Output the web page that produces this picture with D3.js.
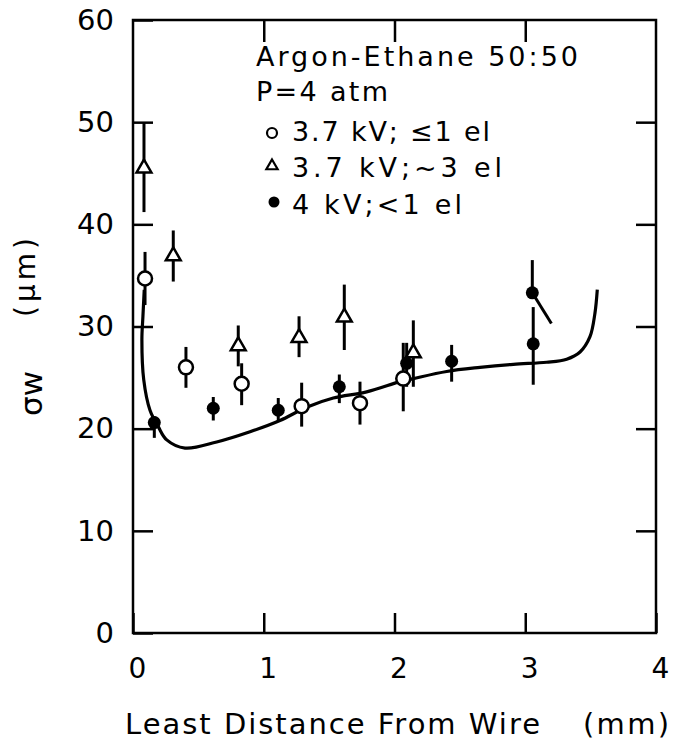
<!DOCTYPE html>
<html>
<head>
<meta charset="utf-8">
<script src="https://cdn.jsdelivr.net/npm/d3@7"></script>
<style>
  body { margin: 0; background: #fff; }
  svg text { font-family: "DejaVu Sans", "Liberation Sans", sans-serif; fill: #000; }
</style>
</head>
<body>
<svg id="chart" width="674" height="740"></svg>
<script>
// open circles: 3.7 kV, <=1 el
var openX  = [0.092, 0.405, 0.831, 1.29, 1.736, 2.067];
var openY  = [34.7, 26.0, 24.4, 22.2, 22.5, 24.9];
var openLo = [32.1, 24.0, 22.3, 20.2, 20.4, 21.7];
var openHi = [37.3, 28.0, 26.4, 24.5, 24.6, 28.4];

// triangles: 3.7 kV, ~3 el
var triX  = [0.084, 0.308, 0.805, 1.27, 1.616, 2.144];
var triY  = [45.6, 37.0, 28.2, 29.0, 31.0, 27.5];
var triLo = [41.2, 34.4, 26.1, 27.0, 27.7, 24.1];
var triHi = [50.0, 39.4, 30.1, 31.0, 34.1, 30.6];

// filled circles: 4 kV, <1 el
var fillX  = [0.163, 0.614, 1.111, 1.578, 2.093, 2.437, 3.061, 3.054];
var fillY  = [20.6, 22.0, 21.8, 24.1, 26.4, 26.6, 28.3, 33.3];
var fillLo = [19.1, 20.8, 20.7, 22.5, 24.1, 24.6, 24.3, 33.3];
var fillHi = [21.2, 23.1, 23.0, 25.3, 28.4, 28.2, 31.9, 36.5];

// short slanted stroke from the top point at 3 mm
var tailX = [3.054, 3.20];
var tailY = [33.3, 30.3];

// calculated curve
var curveX = [0.086, 0.076, 0.068, 0.082, 0.130, 0.193, 0.258, 0.398, 0.640, 0.895, 1.124, 1.328,
              1.532, 1.787, 2.042, 2.144, 2.399, 2.654, 2.909, 3.164, 3.317, 3.419, 3.495, 3.533, 3.551];
var curveY = [33.6, 31.0, 28.7, 24.8, 21.8, 20.2, 18.9, 18.1, 18.7, 19.7, 20.8, 22.1,
              23.0, 23.6, 24.6, 24.9, 25.6, 26.0, 26.3, 26.5, 26.8, 27.5, 29.0, 31.3, 33.6];

var xTicks = [0, 1, 2, 3, 4];
var yTicks = [0, 10, 20, 30, 40, 50, 60];

var legendLines = ["Argon-Ethane 50:50", "P=4 atm"];
var legendItems = ["3.7 kV; \u22641 el", "3.7 kV;~3 el", "4 kV;<1 el"];

var svg = d3.select("#chart");

var x = d3.scaleLinear().domain([0, 4]).range([133, 656]);
var y = d3.scaleLinear().domain([0, 60]).range([633, 20]);

// frame
svg.append("rect")
    .attr("x", x(0)).attr("y", y(60))
    .attr("width", x(4) - x(0)).attr("height", y(0) - y(60))
    .attr("fill", "none").attr("stroke", "#000").attr("stroke-width", 2.5);

// axes, ticks pointing inward
var fmt = d3.format("d");
var axLeft = svg.append("g")
    .attr("transform", "translate(" + x(0) + ",0)")
    .call(d3.axisLeft(y).tickValues(yTicks).tickFormat(fmt).tickSizeInner(-20).tickSizeOuter(0).tickPadding(19));
var axBottom = svg.append("g")
    .attr("transform", "translate(0," + y(0) + ")")
    .call(d3.axisBottom(x).tickValues(xTicks).tickFormat(fmt).tickSizeInner(-20).tickSizeOuter(0).tickPadding(25));
var axTop = svg.append("g")
    .attr("transform", "translate(0," + y(60) + ")")
    .call(d3.axisTop(x).tickValues([1, 2, 3]).tickSizeInner(-22).tickSizeOuter(0).tickFormat(""));
var axRight = svg.append("g")
    .attr("transform", "translate(" + x(4) + ",0)")
    .call(d3.axisRight(y).tickValues([10, 20, 30, 40, 50]).tickSizeInner(-20).tickSizeOuter(0).tickFormat(""));

[axLeft, axBottom, axTop, axRight].forEach(function (g) {
    g.attr("font-family", null).attr("font-size", null);
    g.select(".domain").remove();
    g.selectAll("line").attr("stroke", "#000").attr("stroke-width", 2.5);
});
axLeft.selectAll("text").attr("font-size", 29);
axBottom.selectAll("text").attr("font-size", 28).attr("dx", 4);

// axis titles
svg.append("text")
    .attr("x", 125).attr("y", 734)
    .attr("font-size", 29)
    .attr("textLength", 415).attr("lengthAdjust", "spacing")
    .text("Least Distance From Wire");
svg.append("text")
    .attr("x", 583).attr("y", 734)
    .attr("font-size", 29)
    .attr("textLength", 86).attr("lengthAdjust", "spacing")
    .text("(mm)");

svg.append("text")
    .attr("transform", "translate(42,416) rotate(-90)")
    .attr("font-size", 31)
    .text("\u03c3w");
svg.append("text")
    .attr("transform", "translate(35,317) rotate(-90)")
    .attr("font-size", 28)
    .attr("textLength", 79).attr("lengthAdjust", "spacing")
    .text("(\u03bcm)");

// curve
var line = d3.line()
    .x(function (d) { return x(d[0]); })
    .y(function (d) { return y(d[1]); })
    .curve(d3.curveCatmullRom);

svg.append("path")
    .datum(d3.zip(curveX, curveY))
    .attr("d", line)
    .attr("fill", "none").attr("stroke", "#000").attr("stroke-width", 3.2);

svg.append("path")
    .datum(d3.zip(tailX, tailY))
    .attr("d", d3.line().x(function (d) { return x(d[0]); }).y(function (d) { return y(d[1]); }))
    .attr("fill", "none").attr("stroke", "#000").attr("stroke-width", 3);

// error bars
function errorBars(xs, lo, hi) {
    svg.append("g").selectAll("line")
        .data(d3.range(xs.length))
        .join("line")
        .attr("x1", function (i) { return x(xs[i]); })
        .attr("x2", function (i) { return x(xs[i]); })
        .attr("y1", function (i) { return y(lo[i]); })
        .attr("y2", function (i) { return y(hi[i]); })
        .attr("stroke", "#000").attr("stroke-width", 3);
}
errorBars(fillX, fillLo, fillHi);
errorBars(triX, triLo, triHi);
errorBars(openX, openLo, openHi);

// markers
var tri = d3.symbol().type(d3.symbolTriangle).size(95);

svg.append("g").selectAll("circle")
    .data(d3.range(fillX.length))
    .join("circle")
    .attr("cx", function (i) { return x(fillX[i]); })
    .attr("cy", function (i) { return y(fillY[i]); })
    .attr("r", 6.5).attr("fill", "#000");

svg.append("g").selectAll("path")
    .data(d3.range(triX.length))
    .join("path")
    .attr("d", tri)
    .attr("transform", function (i) { return "translate(" + x(triX[i]) + "," + (y(triY[i]) + 1) + ")"; })
    .attr("fill", "#fff").attr("stroke", "#000").attr("stroke-width", 2.5);

svg.append("g").selectAll("circle")
    .data(d3.range(openX.length))
    .join("circle")
    .attr("cx", function (i) { return x(openX[i]); })
    .attr("cy", function (i) { return y(openY[i]); })
    .attr("r", 7).attr("fill", "#fff").attr("stroke", "#000").attr("stroke-width", 2.5);

// legend
svg.append("text").attr("x", 256).attr("y", 66).attr("font-size", 27)
    .attr("textLength", 322).attr("lengthAdjust", "spacing").text(legendLines[0]);
svg.append("text").attr("x", 256).attr("y", 101).attr("font-size", 27)
    .attr("textLength", 132).attr("lengthAdjust", "spacing").text(legendLines[1]);

var itemY = [141, 177, 214];
var itemLen = [198, 210, 170];
legendItems.forEach(function (t, i) {
    svg.append("text").attr("x", 292).attr("y", itemY[i]).attr("font-size", 27)
        .attr("textLength", itemLen[i]).attr("lengthAdjust", "spacing").text(t);
});
svg.append("circle").attr("cx", 272).attr("cy", itemY[0] - 8).attr("r", 5)
    .attr("fill", "none").attr("stroke", "#000").attr("stroke-width", 2.2);
svg.append("path").attr("d", d3.symbol().type(d3.symbolTriangle).size(55))
    .attr("transform", "translate(272," + (itemY[1] - 11) + ")")
    .attr("fill", "none").attr("stroke", "#000").attr("stroke-width", 2.2);
svg.append("circle").attr("cx", 274).attr("cy", itemY[2] - 12).attr("r", 5.5).attr("fill", "#000");
</script>
</body>
</html>
